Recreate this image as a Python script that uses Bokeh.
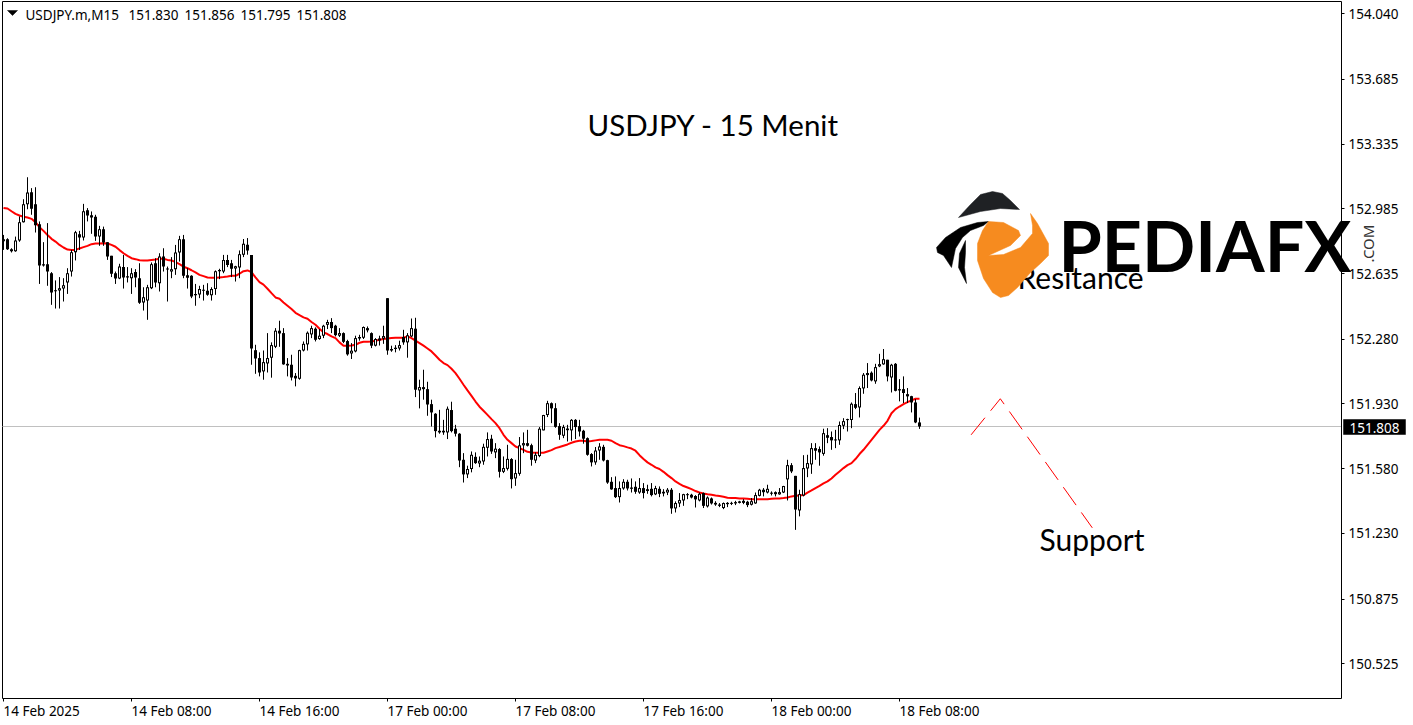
from bokeh.plotting import figure
from bokeh.embed import file_html
from bokeh.resources import INLINE
from bokeh.models import FixedTicker, Label, PolyAnnotation
from math import pi

opens = [152.810,152.821,152.767,152.756,152.814,152.913,153.010,153.075,153.010,152.902,
152.686,152.686,152.637,152.545,152.543,152.554,152.587,152.646,152.751,152.848,
152.830,152.978,152.951,152.942,152.835,152.875,152.805,152.731,152.637,152.608,
152.670,152.621,152.610,152.644,152.610,152.479,152.489,152.556,152.691,152.583,
152.727,152.662,152.646,152.659,152.749,152.821,152.626,152.623,152.524,152.522,
152.547,152.542,152.518,152.551,152.655,152.646,152.709,152.691,152.662,152.668,
152.737,152.791,152.735,152.221,152.178,152.106,152.149,152.180,152.239,152.326,
152.313,152.147,152.142,152.082,152.066,152.219,152.252,152.306,152.337,152.281,
152.299,152.358,152.373,152.353,152.299,152.313,152.270,152.203,152.214,152.292,
152.288,152.340,152.313,152.245,152.273,152.283,152.502,152.227,152.234,152.230,
152.292,152.263,152.295,152.337,152.003,152.021,152.010,151.929,151.877,151.785,
151.785,151.776,151.897,151.796,151.769,151.628,151.549,151.578,151.644,151.608,
151.619,151.693,151.742,151.668,151.686,151.563,151.579,151.632,151.527,151.552,
151.706,151.718,151.707,151.624,151.648,151.787,151.870,151.934,151.907,151.810,
151.758,151.797,151.787,151.844,151.810,151.785,151.745,151.659,151.614,151.678,
151.698,151.626,151.509,151.475,151.426,151.473,151.509,151.478,151.482,151.451,
151.475,151.459,151.471,151.441,151.471,151.455,151.451,151.466,151.365,151.392,
151.408,151.439,151.439,151.432,151.408,151.448,151.376,151.419,151.395,151.386,
151.367,151.395,151.395,151.399,151.403,151.406,151.401,151.385,151.392,151.433,
151.466,151.451,151.450,151.453,151.441,151.451,151.522,151.599,151.541,151.354,
151.435,151.581,151.603,151.691,151.686,151.660,151.761,151.751,151.734,151.733,
151.812,151.843,151.843,151.929,151.911,152.014,152.086,152.099,152.052,152.133,
152.144,152.169,152.073,152.147,152.010,152.010,151.983,151.972,151.938,151.830]

closes = [152.821,152.767,152.756,152.814,152.913,153.010,153.073,152.985,152.897,152.679,
152.679,152.646,152.533,152.540,152.556,152.572,152.637,152.751,152.859,152.830,
152.972,152.949,152.938,152.835,152.875,152.803,152.727,152.634,152.608,152.673,
152.614,152.614,152.637,152.614,152.477,152.507,152.561,152.686,152.587,152.727,
152.673,152.659,152.659,152.749,152.821,152.623,152.612,152.511,152.518,152.551,
152.543,152.520,152.551,152.648,152.648,152.709,152.682,152.661,152.675,152.740,
152.796,152.760,152.230,152.176,152.100,152.156,152.178,152.248,152.326,152.311,
152.144,152.138,152.073,152.068,152.221,152.255,152.315,152.340,152.277,152.299,
152.353,152.373,152.340,152.302,152.313,152.266,152.198,152.218,152.286,152.284,
152.346,152.328,152.245,152.281,152.284,152.297,152.219,152.219,152.227,152.248,
152.263,152.301,152.340,152.007,152.021,152.010,151.927,151.884,151.783,151.776,
151.776,151.904,151.783,151.769,151.624,151.549,151.578,151.655,151.610,151.623,
151.698,151.740,151.673,151.688,151.563,151.583,151.633,151.523,151.556,151.706,
151.718,151.704,151.628,151.655,151.796,151.870,151.934,151.906,151.806,151.763,
151.805,151.788,151.844,151.805,151.781,151.742,151.655,151.614,151.678,151.700,
151.624,151.505,151.468,151.426,151.475,151.509,151.473,151.471,151.455,151.475,
151.448,151.469,151.437,151.475,151.444,151.446,151.466,151.365,151.394,151.410,
151.442,151.442,151.424,151.414,151.444,151.379,151.424,151.392,151.386,151.379,
151.394,151.388,151.392,151.392,151.395,151.395,151.383,151.404,151.437,151.466,
151.453,151.471,151.446,151.442,151.453,151.486,151.599,151.565,151.359,151.442,
151.583,151.610,151.691,151.677,151.668,151.772,151.747,151.733,151.738,151.816,
151.837,151.848,151.931,151.909,152.016,152.088,152.097,152.057,152.129,152.145,
152.172,152.079,152.142,152.001,152.003,151.989,151.971,151.938,151.830,151.808]

highs = [152.844,152.826,152.772,152.835,152.944,153.037,153.156,153.097,153.102,152.917,
152.805,152.908,152.643,152.598,152.616,152.610,152.664,152.763,152.866,152.866,
153.012,152.989,152.971,152.953,152.893,152.889,152.805,152.731,152.646,152.688,
152.736,152.670,152.664,152.659,152.691,152.561,152.574,152.695,152.718,152.745,
152.772,152.673,152.724,152.790,152.839,152.844,152.664,152.626,152.579,152.569,
152.574,152.583,152.561,152.652,152.661,152.736,152.736,152.709,152.677,152.760,
152.822,152.827,152.735,152.250,152.209,152.219,152.313,152.263,152.340,152.380,
152.340,152.178,152.196,152.097,152.223,152.268,152.322,152.353,152.344,152.335,
152.358,152.385,152.394,152.358,152.340,152.317,152.277,152.259,152.299,152.304,
152.349,152.349,152.317,152.286,152.299,152.353,152.502,152.245,152.248,152.272,
152.331,152.313,152.392,152.396,152.061,152.115,152.050,151.953,151.880,151.898,
151.844,151.916,151.942,151.817,151.772,151.664,151.596,151.673,151.668,151.646,
151.715,151.776,151.763,151.718,151.691,151.646,151.709,151.637,151.628,151.751,
151.776,151.790,151.715,151.668,151.805,151.871,151.947,151.938,151.934,151.826,
151.817,151.817,151.848,151.848,151.844,151.790,151.749,151.664,151.697,151.718,
151.709,151.628,151.534,151.538,151.511,151.523,151.520,151.527,151.511,151.529,
151.502,151.493,151.502,151.487,151.484,151.469,151.475,151.475,151.403,151.448,
151.444,151.448,151.444,151.437,151.451,151.451,151.430,151.424,151.404,151.394,
151.397,151.399,151.401,151.406,151.406,151.415,151.406,151.421,151.451,151.471,
151.475,151.493,151.457,151.457,151.475,151.487,151.628,151.610,151.541,151.466,
151.653,151.655,151.718,151.718,151.700,151.796,151.799,151.781,151.790,151.835,
151.853,151.850,151.938,151.989,152.025,152.097,152.151,152.106,152.147,152.201,
152.227,152.169,152.147,152.151,152.064,152.079,152.016,151.974,151.956,151.856]

lows = [152.763,152.763,152.749,152.753,152.807,152.911,152.983,152.953,152.857,152.579,
152.673,152.569,152.466,152.446,152.446,152.484,152.525,152.619,152.706,152.763,
152.814,152.917,152.850,152.812,152.785,152.785,152.709,152.616,152.579,152.605,
152.554,152.587,152.525,152.561,152.471,152.435,152.385,152.551,152.561,152.538,
152.646,152.484,152.610,152.628,152.700,152.610,152.554,152.502,152.461,152.502,
152.489,152.515,152.489,152.520,152.605,152.637,152.670,152.616,152.592,152.610,
152.724,152.737,152.142,152.093,152.079,152.061,152.100,152.072,152.232,152.239,
152.142,152.079,152.057,152.025,152.061,152.214,152.219,152.286,152.268,152.277,
152.286,152.335,152.313,152.295,152.292,152.259,152.191,152.173,152.209,152.272,
152.281,152.317,152.232,152.241,152.246,152.255,152.196,152.212,152.209,152.219,
152.250,152.180,152.292,151.967,151.906,151.953,151.866,151.808,151.749,151.769,
151.763,151.740,151.776,151.754,151.588,151.505,151.529,151.560,151.606,151.588,
151.601,151.646,151.660,151.637,151.532,151.556,151.570,151.473,151.487,151.542,
151.664,151.700,151.596,151.610,151.642,151.787,151.859,151.826,151.801,151.736,
151.745,151.727,151.731,151.740,151.754,151.715,151.650,151.592,151.601,151.628,
151.619,151.498,151.466,151.421,151.397,151.466,151.462,151.451,151.444,151.444,
151.419,151.444,151.430,151.437,151.426,151.430,151.437,151.336,151.343,151.372,
151.379,151.415,151.419,151.370,151.403,151.367,151.370,151.386,151.379,151.372,
151.361,151.372,151.383,151.383,151.392,151.388,151.372,151.381,151.390,151.430,
151.430,151.446,151.435,151.430,151.439,151.448,151.408,151.556,151.249,151.322,
151.430,151.534,151.552,151.628,151.596,151.650,151.718,151.682,151.691,151.709,
151.794,151.781,151.799,151.902,151.857,151.985,152.016,152.052,152.039,152.129,
152.142,152.052,151.992,151.998,151.944,151.935,151.935,151.884,151.826,151.795]

ma_values = [152.990,152.987,152.972,152.958,152.949,152.942,152.938,152.931,152.913,152.886,
152.866,152.844,152.823,152.808,152.790,152.776,152.765,152.763,152.763,152.771,
152.778,152.785,152.794,152.798,152.798,152.799,152.798,152.790,152.780,152.762,
152.745,152.731,152.718,152.713,152.707,152.706,152.706,152.709,152.711,152.715,
152.715,152.709,152.706,152.697,152.686,152.673,152.664,152.653,152.641,152.628,
152.621,152.614,152.612,152.612,152.614,152.616,152.619,152.623,152.623,152.634,
152.648,152.652,152.643,152.614,152.589,152.575,152.553,152.529,152.506,152.499,
152.479,152.461,152.443,152.423,152.410,152.398,152.391,152.373,152.358,152.337,
152.317,152.308,152.295,152.286,152.263,152.245,152.245,152.246,152.250,152.261,
152.266,152.266,152.268,152.272,152.277,152.281,152.284,152.286,152.288,152.288,
152.288,152.295,152.286,152.272,152.259,152.245,152.230,152.214,152.192,152.169,
152.151,152.140,152.120,152.097,152.066,152.034,152.003,151.974,151.943,151.915,
151.893,151.871,151.848,151.826,151.799,151.763,151.736,151.718,151.700,151.691,
151.682,151.671,151.668,151.666,151.666,151.666,151.673,151.680,151.691,151.697,
151.704,151.711,151.720,151.727,151.731,151.731,151.727,151.729,151.733,151.736,
151.736,151.736,151.731,151.718,151.707,151.702,151.695,151.689,151.677,151.653,
151.632,151.614,151.601,151.587,151.578,151.563,151.545,151.529,151.511,151.498,
151.486,151.478,151.469,151.459,151.451,151.446,151.442,151.439,151.435,151.432,
151.428,151.423,151.421,151.421,151.419,151.419,151.417,151.414,151.414,151.415,
151.415,151.415,151.417,151.419,151.419,151.421,151.424,151.430,151.433,151.435,
151.437,151.450,151.462,151.475,151.487,151.500,151.511,151.527,151.547,151.565,
151.583,151.599,151.610,151.632,151.659,151.682,151.709,151.736,151.763,151.790,
151.812,151.839,151.880,151.902,151.916,151.929,151.940,151.949,151.958,151.958]

y_tick_values = [154.040,153.685,153.335,152.985,152.635,152.280,151.930,151.580,151.230,150.875,150.525]
y_tick_labels = ["154.040","153.685","153.335","152.985","152.635","152.280","151.930","151.580","151.230","150.875","150.525"]
x_tick_bars = [0,32,64,96,128,160,192,224]
x_tick_labels = ["14 Feb 2025","14 Feb 08:00","14 Feb 16:00","17 Feb 00:00","17 Feb 08:00","17 Feb 16:00","18 Feb 00:00","18 Feb 08:00"]
forecast_bar = [241.9,249.2,272.2]
forecast_price = [151.763,151.958,151.260]
symbol = "USDJPY.m,M15"
last_ohlc = ["151.830","151.856","151.795","151.808"]

W, H = 1413, 725
PX_PRICE = 0.005408
x0, x1 = -3 / 4, (W - 3) / 4
y1 = closes[-1] + 426 * PX_PRICE
y0 = y1 - H * PX_PRICE
UI = "Noto Sans"
UI_SIZE = "13.5px"

def dx(px):
    return x0 + px * (x1 - x0) / W

def dy(py):
    return y1 - py * (y1 - y0) / H

p = figure(frame_width=W, frame_height=H, x_range=(x0, x1), y_range=(y0, y1),
           output_backend="svg", toolbar_location=None, y_axis_location="right",
           min_border=0, background_fill_color="white", border_fill_color="white",
           outline_line_color=None)
p.grid.visible = False

for ax, ticks, labels in ((p.yaxis[0], y_tick_values, y_tick_labels), (p.xaxis[0], x_tick_bars, x_tick_labels)):
    ax.ticker = FixedTicker(ticks=ticks)
    ax.major_label_overrides = dict(zip(ticks, labels))
    ax.minor_tick_line_color = None
    ax.major_tick_in = 0
    ax.major_tick_out = 3
    ax.major_tick_line_color = "black"
    ax.axis_line_color = "black"
    ax.major_label_text_font = UI
    ax.major_label_text_font_size = UI_SIZE
    ax.major_label_text_color = "black"
    ax.major_label_standoff = 4
p.yaxis[0].fixed_location = dx(1341)
p.yaxis[0].bounds = (dy(698), dy(1))
p.xaxis[0].fixed_location = dy(698)
p.xaxis[0].bounds = (dx(2), dx(1341))
p.xaxis[0].major_label_text_color = None
p.xaxis[0].major_label_text_alpha = 0
p.line([dx(2), dx(2), dx(1341)], [dy(698), dy(1), dy(1)], line_color="black", line_width=1)

idx = list(range(len(closes)))
p.line([dx(2), dx(1341)], [closes[-1], closes[-1]], line_color="#c0c0c0", line_width=1)
p.line(forecast_bar, forecast_price, line_color="#ff0000", line_width=1, line_dash="22 9")
p.line(idx, ma_values, line_color="#ff0000", line_width=2)
p.segment(idx, lows, idx, highs, line_color="black", line_width=1)
tops = [max(a, b) for a, b in zip(opens, closes)]
bots = [min(a, b) for a, b in zip(opens, closes)]
body_lows = [min(b, t - PX_PRICE) for b, t in zip(bots, tops)]
p.segment(idx, body_lows, idx, tops, line_color="black", line_width=3)
up = [i for i in idx if closes[i] - opens[i] > 2 * PX_PRICE]
p.segment(up, [opens[i] + PX_PRICE for i in up], up, [closes[i] - PX_PRICE for i in up], line_color="white", line_width=1)

def lab(text, px, py, size, font, color="black", style="normal", angle=0, align="left", **kw):
    p.add_layout(Label(x=px, y=py, x_units="canvas", y_units="canvas", text=text, text_font=font,
                       text_font_size=size if isinstance(size, str) else f"{size}px",
                       text_color=color, text_font_style=style, angle=angle, text_align=align,
                       text_baseline="middle", **kw))

def poly(points, color):
    p.add_layout(PolyAnnotation(xs=[dx(a) for a, b in points], ys=[dy(b) for a, b in points],
                                fill_color=color, fill_alpha=1, line_color=color, line_alpha=1, line_width=0.5))

lab(symbol, 25, 14, UI_SIZE, UI)
for k, text in enumerate(last_ohlc):
    lab(text, 128 + 56 * k, 14, UI_SIZE, UI)
lab("USDJPY - 15 Menit", 587, 124, 29.5, "Lato")
lab("Support", 1039, 538, 30, "Lato")
lab("Resitance", 1017, 276, 30, "Lato")
poly([(1343,419),(1405,419),(1405,434),(1343,434)], "black")
lab(f"{closes[-1]:.3f}", 1349, 427, UI_SIZE, UI, color="white")
for bar, text in zip(x_tick_bars, x_tick_labels):
    lab(text, 3 + 4 * bar, 710, UI_SIZE, UI)

poly([(7,10),(17,10),(12,15)], "black")
poly([(958,217),(970,204),(980,194),(992,191),(1002,193),(1010,200),(1019,209),(1000,208),(980,211)], "#1f2124")
poly([(936,247),(945,237),(960,227),(977,222),(988,221),(983,225),(970,230),(962,237),(955,248),(951,267),(943,255),(937,252)], "black")
poly([(965,240),(959,253),(958,267),(966,283),(964,267),(965,252)], "black")
poly([(988,221),(1003,222),(1018,230),(1020,235),(1010,245),(988,255),(1003,254),(1020,247),(1032,233),(1032,225),(1030,213),
      (1037,223),(1048,243),(1048,255),(1040,263),(1030,272),(1017,287),(1008,295),(1000,297),(992,292),(983,278),(977,260),(977,243),(982,230)], "#f68b1f")
lab("PEDIAFX", 1058, 244, 70, "Lato", style="bold")
lab(".COM", 1367, 243, 15, "Noto Sans", color="#333333", angle=pi/2, align="center")

open("out.html", "w").write(file_html(p, INLINE))
